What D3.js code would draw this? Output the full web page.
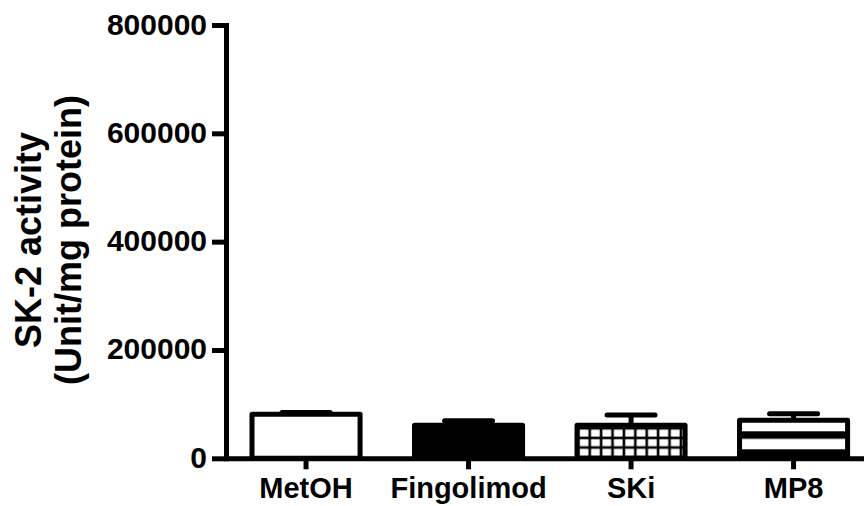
<!DOCTYPE html>
<html>
<head>
<meta charset="utf-8">
<script src="https://cdn.jsdelivr.net/npm/d3@7"></script>
<style>
  body { margin: 0; background: #fff; }
  svg { display: block; }
  text { font-family: "Liberation Sans", Arial, sans-serif; font-weight: bold; fill: #000; }
</style>
</head>
<body>
<div id="chart"></div>
<script>
// values (mean and upward SEM)
var groups = ["MetOH", "Fingolimod", "SKi", "MP8"];
var means = [81400, 61100, 61100, 70200];
var sems = [3200, 8100, 18900, 12000];
var yTicks = [0, 200000, 400000, 600000, 800000];
var yTitle = ["SK-2 activity", "(Unit/mg protein)"];

var W = 864, H = 506;
var axisX = 226, baseY = 458.3, topY = 25;
var sw = 5;

var svg = d3.select("#chart").append("svg").attr("width", W).attr("height", H);
var defs = svg.append("defs");

var y = d3.scaleLinear().domain([0, 800000]).range([baseY, topY]);
var x = d3.scaleBand().domain(groups).range([axisX, 873.6]).paddingInner(0.335).paddingOuter(0.16);

// checkered fill for SKi
var grid = defs.append("pattern").attr("id", "grid").attr("patternUnits", "userSpaceOnUse")
    .attr("x", x("SKi") + sw/2 - 1.2).attr("y", baseY - 9.6*3 - 1.2)
    .attr("width", 11.4).attr("height", 9.6);
grid.append("rect").attr("width", 11.4).attr("height", 9.6).attr("fill", "#000");
grid.append("rect").attr("x", 1.3).attr("y", 1.3).attr("width", 8.8).attr("height", 7.0).attr("fill", "#fff");

// horizontal stripes for MP8
var stripes = defs.append("pattern").attr("id", "stripes").attr("patternUnits", "userSpaceOnUse")
    .attr("x", 0).attr("y", baseY - 27).attr("width", 20).attr("height", 18);
stripes.append("rect").attr("width", 20).attr("height", 18).attr("fill", "#fff");
stripes.append("rect").attr("width", 20).attr("height", 7.5).attr("fill", "#000");

var fill = d3.scaleOrdinal().domain(groups).range(["#fff", "#000", "url(#grid)", "url(#stripes)"]);

var data = groups.map(function(g, i) { return {name: g, mean: means[i], sem: sems[i]}; });

// error bars (upward only)
var eb = svg.append("g").selectAll("g").data(data).enter().append("g")
    .attr("stroke", "#000").attr("stroke-width", sw);
eb.append("line")
    .attr("x1", function(d) { return x(d.name) + x.bandwidth()/2; })
    .attr("x2", function(d) { return x(d.name) + x.bandwidth()/2; })
    .attr("y1", function(d) { return y(d.mean); })
    .attr("y2", function(d) { return y(d.mean + d.sem); });
eb.append("line").attr("stroke-linecap", "round")
    .attr("x1", function(d) { return x(d.name) + x.bandwidth()/2 - 24; })
    .attr("x2", function(d) { return x(d.name) + x.bandwidth()/2 + 24; })
    .attr("y1", function(d) { return y(d.mean + d.sem); })
    .attr("y2", function(d) { return y(d.mean + d.sem); });

// bars
svg.append("g").selectAll("rect").data(data).enter().append("rect")
    .attr("x", function(d) { return x(d.name); })
    .attr("width", x.bandwidth())
    .attr("y", function(d) { return y(d.mean); })
    .attr("height", function(d) { return y(0) - y(d.mean); })
    .attr("fill", function(d) { return fill(d.name); })
    .attr("stroke", "#000").attr("stroke-width", sw).attr("stroke-linejoin", "round");

// y axis
var gy = svg.append("g").attr("transform", `translate(${axisX},0)`)
    .call(d3.axisLeft(y).tickValues(yTicks).tickFormat(d3.format("d")).tickSize(14).tickSizeOuter(0).tickPadding(5));
gy.select(".domain").attr("stroke-width", sw).attr("stroke-linecap", "square");
gy.selectAll(".tick line").attr("stroke-width", sw);
gy.selectAll(".tick text").attr("font-size", 30).attr("dy", "0.3em")
    .attr("font-family", null);

// x axis
var gx = svg.append("g").attr("transform", `translate(0,${baseY})`)
    .call(d3.axisBottom(x).tickSize(11).tickSizeOuter(0));
gx.select(".domain").attr("stroke-width", sw);
gx.selectAll(".tick line").attr("stroke-width", sw);
gx.selectAll(".tick text").attr("font-size", 29).attr("y", 19).attr("dy", "0.71em")
    .attr("font-family", null);
svg.selectAll(".domain").attr("stroke", "#000");
svg.selectAll(".tick line").attr("stroke", "#000");

// y title
svg.append("g").selectAll("text").data(yTitle).enter().append("text")
    .attr("transform", function(d, i) { return `translate(${41 + i*40},240) rotate(-90)`; })
    .attr("text-anchor", "middle").attr("font-size", 36)
    .text(function(d) { return d; });
</script>
</body>
</html>
